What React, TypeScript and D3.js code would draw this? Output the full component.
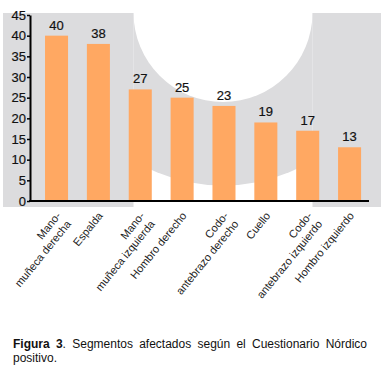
import React, { useRef, useEffect } from "react";
import * as d3 from "d3";

// ---------------------------------------------------------------------------
// DATA
// ---------------------------------------------------------------------------
const categories: string[][] = [
  ["Mano-", "muñeca derecha"],
  ["Espalda"],
  ["Mano-", "muñeca izquierda"],
  ["Hombro derecho"],
  ["Codo-", "antebrazo derecho"],
  ["Cuello"],
  ["Codo-", "antebrazo izquierdo"],
  ["Hombro izquierdo"],
];
const values: number[] = [40, 38, 27, 25, 23, 19, 17, 13];
const yTicks: number[] = [0, 5, 10, 15, 20, 25, 30, 35, 40, 45];
const captionBold = "Figura 3";
const captionRest = ". Segmentos afectados según el Cuestionario Nórdico";
const captionLine2 = "positivo.";

const FONT = "'Liberation Sans', Arial, Helvetica, sans-serif";

export default function App() {
  const svgRef = useRef<SVGSVGElement | null>(null);

  useEffect(() => {
    const W = 385;
    const H = 370;
    const axisX = 30;
    const axisY = 201;

    const svg = d3.select(svgRef.current);
    svg.selectAll("*").remove();
    svg.attr("width", W).attr("height", H);

    // -----------------------------------------------------------------------
    // background decoration (gray panel with a white arc cut-out)
    // -----------------------------------------------------------------------
    const bg = { x0: 3, x1: 381, y0: 13, y1: 207 };
    const arc = { cx: 223, cy: 12.5, r: 89.5, R: 173 };
    const grey = "#dcdcde";

    svg
      .append("rect")
      .attr("x", bg.x0)
      .attr("y", bg.y0)
      .attr("width", arc.cx - arc.r - bg.x0)
      .attr("height", bg.y1 - bg.y0)
      .attr("fill", grey);
    svg
      .append("rect")
      .attr("x", arc.cx + arc.r)
      .attr("y", bg.y0)
      .attr("width", bg.x1 - (arc.cx + arc.r))
      .attr("height", bg.y1 - bg.y0)
      .attr("fill", grey);

    const defs = svg.append("defs");
    defs
      .append("clipPath")
      .attr("id", "midClip")
      .append("rect")
      .attr("x", arc.cx - arc.r)
      .attr("y", bg.y0)
      .attr("width", arc.r * 2)
      .attr("height", bg.y1 - bg.y0);
    const mid = svg.append("g").attr("clip-path", "url(#midClip)");
    mid
      .append("circle")
      .attr("cx", arc.cx)
      .attr("cy", arc.cy)
      .attr("r", arc.R)
      .attr("fill", grey);
    mid
      .append("circle")
      .attr("cx", arc.cx)
      .attr("cy", arc.cy)
      .attr("r", arc.r)
      .attr("fill", "#ffffff");

    // -----------------------------------------------------------------------
    // scales
    // -----------------------------------------------------------------------
    const x = d3
      .scaleBand<number>()
      .domain(d3.range(values.length))
      .range([35.6, 370.5])
      .paddingInner(0.45)
      .paddingOuter(0.225);

    const y = d3.scaleLinear().domain([0, 45]).range([axisY, 15]);

    // bars
    svg
      .append("g")
      .selectAll("rect")
      .data(values)
      .join("rect")
      .attr("x", (_, i) => x(i)!)
      .attr("y", (d) => y(d))
      .attr("width", x.bandwidth())
      .attr("height", (d) => y(0) - y(d))
      .attr("fill", "#ffa862");

    // value labels
    svg
      .append("g")
      .selectAll("text")
      .data(values)
      .join("text")
      .attr("x", (_, i) => x(i)! + x.bandwidth() / 2)
      .attr("y", (d) => y(d) - 6)
      .attr("text-anchor", "middle")
      .attr("font-family", FONT)
      .attr("font-size", 13)
      .attr("fill", "#111")
      .attr("stroke", "#111")
      .attr("stroke-width", 0.2)
      .text((d) => d);

    // y axis
    const yAxis = svg
      .append("g")
      .attr("transform", `translate(${axisX},0)`)
      .call(
        d3.axisLeft(y).tickValues(yTicks).tickSize(3).tickPadding(1).tickSizeOuter(0)
      );
    yAxis.select(".domain").attr("stroke", "#000").attr("stroke-width", 2);
    yAxis.selectAll(".tick line").attr("stroke", "#000").attr("stroke-width", 1.5);
    yAxis
      .selectAll(".tick text")
      .attr("font-family", FONT)
      .attr("font-size", 13)
      .attr("fill", "#111")
      .attr("stroke", "#111")
      .attr("stroke-width", 0.2);

    // x axis line
    svg
      .append("line")
      .attr("x1", axisX - 1)
      .attr("x2", x.range()[1] - 1.5)
      .attr("y1", y(0))
      .attr("y2", y(0))
      .attr("stroke", "#000")
      .attr("stroke-width", 2);

    // category labels (rotated)
    const labels = svg
      .append("g")
      .selectAll("text")
      .data(categories)
      .join("text")
      .attr(
        "transform",
        (_, i) => `translate(${x(i)! + x.bandwidth() / 2 + 5},${axisY + 15}) rotate(-51)`
      )
      .attr("text-anchor", "end")
      .attr("font-family", FONT)
      .attr("font-size", 11)
      .attr("fill", "#222");
    labels
      .selectAll("tspan")
      .data((d) => d)
      .join("tspan")
      .attr("x", 0)
      .attr("y", (_, j) => j * 13)
      .text((d) => d);

    // -----------------------------------------------------------------------
    // caption (justified first line)
    // -----------------------------------------------------------------------
    const capX = 13;
    const capW = 354;
    const line1 = svg
      .append("text")
      .attr("x", capX)
      .attr("y", 348)
      .attr("font-family", FONT)
      .attr("font-size", 12)
      .attr("fill", "#111");
    line1.append("tspan").attr("font-weight", "bold").text(captionBold);
    line1.append("tspan").text(captionRest);
    const natural = (line1.node() as SVGTextElement).getComputedTextLength();
    const gaps = (captionBold + captionRest).split(" ").length - 1;
    line1.style("word-spacing", `${(capW - natural) / gaps}px`);

    svg
      .append("text")
      .attr("x", capX)
      .attr("y", 362)
      .attr("font-family", FONT)
      .attr("font-size", 12)
      .attr("fill", "#111")
      .text(captionLine2);
  }, []);

  return (
    <div style={{ position: "absolute", left: 0, top: 0 }}>
      <svg ref={svgRef} style={{ display: "block" }} />
    </div>
  );
}
